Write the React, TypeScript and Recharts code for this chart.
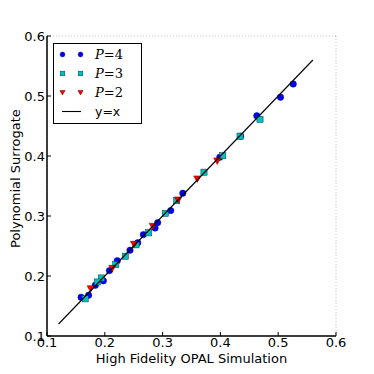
import React from 'react';
import { ScatterChart, Scatter, XAxis, YAxis, CartesianGrid } from 'recharts';

const xTicks = [0.1, 0.2, 0.3, 0.4, 0.5, 0.6];
const yTicks = [0.1, 0.2, 0.3, 0.4, 0.5, 0.6];

const p4X = [0.526, 0.504, 0.463, 0.435, 0.399, 0.335, 0.314, 0.2915, 0.287, 0.2667, 0.257, 0.2436, 0.2216, 0.208, 0.1975, 0.1836, 0.172, 0.159];
const p4Y = [0.52, 0.498, 0.467, 0.433, 0.398, 0.338, 0.309, 0.289, 0.28, 0.269, 0.2555, 0.243, 0.2255, 0.209, 0.192, 0.1845, 0.168, 0.1645];

const p3X = [0.4685, 0.434, 0.404, 0.3716, 0.3244, 0.3047, 0.276, 0.254, 0.2355, 0.219, 0.194, 0.187, 0.166];
const p3Y = [0.461, 0.433, 0.4005, 0.373, 0.3255, 0.3045, 0.272, 0.252, 0.233, 0.219, 0.1967, 0.19, 0.162];

const p2X = [0.3946, 0.36, 0.327, 0.283, 0.2505, 0.213, 0.1756];
const p2Y = [0.392, 0.362, 0.327, 0.283, 0.253, 0.213, 0.179];

const lineX = [0.12, 0.56];
const lineY = [0.12, 0.56];

const legendLabels = ['=4', '=3', '=2', 'y=x'];

const zip = (xs: number[], ys: number[]) => xs.map((x, i) => ({ x, y: ys[i] }));

const p4 = zip(p4X, p4Y);
const p3 = zip(p3X, p3Y);
const p2 = zip(p2X, p2Y);
const line = zip(lineX, lineY);

const BLUE = '#0000ff';
const CYAN = '#00bfbf';
const RED = '#ff0000';

const circleAt = (cx: number, cy: number, r: number) => (
  <circle cx={cx} cy={cy} r={r} fill={BLUE} stroke="#000080" strokeWidth={0.5} />
);
const squareAt = (cx: number, cy: number, h: number) => (
  <rect x={cx - h} y={cy - h} width={2 * h} height={2 * h} fill={CYAN} stroke="#004040" strokeWidth={0.5} />
);
const triAt = (cx: number, cy: number, h: number) => (
  <polygon
    points={`${cx - h},${cy - h * 0.8} ${cx + h},${cy - h * 0.8} ${cx},${cy + h}`}
    fill={RED}
    stroke="#600000"
    strokeWidth={0.5}
  />
);

const Circle = (props: any) => circleAt(props.cx, props.cy, 3.2);
const Square = (props: any) => squareAt(props.cx, props.cy, 3.1);
const TriDown = (props: any) => triAt(props.cx, props.cy, 3.6);
const NoShape = () => <g />;

const font = '"DejaVu Sans", sans-serif';

const LegendBox = () => {
  const kinds = ['c', 's', 't', 'l'];
  const mark = (kind: string, cx: number, cy: number) => {
    if (kind === 'c') return circleAt(cx, cy, 2.4);
    if (kind === 's') return squareAt(cx, cy, 2.3);
    return triAt(cx, cy, 2.6);
  };
  return (
    <div
      style={{
        position: 'absolute',
        left: 53,
        top: 43,
        width: 89,
        height: 81,
        border: '1px solid #000',
        background: '#fff',
        boxSizing: 'border-box',
      }}
    >
      <svg width={87} height={79} style={{ display: 'block' }}>
        {kinds.map((kind, i) => {
          const cy = 10.5 + i * 19;
          return (
            <g key={i}>
              {kind === 'l' ? (
                <line x1={8} x2={27} y1={cy} y2={cy} stroke="#000" strokeWidth={1.1} />
              ) : (
                <g>
                  {mark(kind, 8.5, cy)}
                  {mark(kind, 26.5, cy)}
                </g>
              )}
              {kind === 'l' ? (
                <text x={41} y={cy + 4.5} fontFamily={font} fontSize={12.5} fill="#000">
                  {legendLabels[i]}
                </text>
              ) : (
                <text x={41} y={cy + 4.5} fontFamily={'"DejaVu Serif", serif'} fontSize={13} fill="#000">
                  <tspan fontStyle="italic">P</tspan>
                  <tspan>{legendLabels[i]}</tspan>
                </text>
              )}
            </g>
          );
        })}
      </svg>
    </div>
  );
};

export default function App() {
  const tickStyle = { fontFamily: font, fontSize: 13, fill: '#000' };
  return (
    <div style={{ position: 'absolute', left: 0, top: 0, width: 374, height: 374, background: '#fff' }}>
      <ScatterChart width={374} height={374} margin={{ top: 36, right: 38, bottom: 8, left: 7 }}>
        <CartesianGrid stroke="#b0b0b0" strokeDasharray="1 2" strokeWidth={0.8} />
        <XAxis
          xAxisId="b"
          dataKey="x"
          type="number"
          domain={[0.1, 0.6]}
          ticks={xTicks}
          tickFormatter={(v: number) => v.toFixed(1)}
          height={30}
          tickSize={-4}
          tickMargin={6}
          tick={tickStyle}
          axisLine={{ stroke: '#000', strokeWidth: 1.5 }}
          tickLine={{ stroke: '#000' }}
          allowDataOverflow
          label={{ value: 'High Fidelity OPAL Simulation', position: 'insideBottom', offset: 3, style: { fontFamily: font, fontSize: 13, fill: '#000' } }}
        />
        <XAxis
          xAxisId="t"
          dataKey="x"
          type="number"
          orientation="top"
          domain={[0.1, 0.6]}
          ticks={xTicks}
          tickFormatter={() => ''}
          height={0}
          tickSize={-4}
          axisLine={{ stroke: '#000', strokeWidth: 1.5 }}
          tickLine={{ stroke: '#000' }}
          allowDataOverflow
        />
        <YAxis
          yAxisId="l"
          dataKey="y"
          type="number"
          domain={[0.1, 0.6]}
          ticks={yTicks}
          tickFormatter={(v: number) => v.toFixed(1)}
          width={40}
          tickSize={-4}
          tickMargin={6}
          tick={tickStyle}
          axisLine={{ stroke: '#000', strokeWidth: 1.5 }}
          tickLine={{ stroke: '#000' }}
          allowDataOverflow
          label={{ value: 'Polynomial Surrogate', angle: -90, position: 'insideLeft', offset: 8, dy: 62, style: { fontFamily: font, fontSize: 13, fill: '#000' } }}
        />
        <YAxis
          yAxisId="r"
          dataKey="y"
          type="number"
          orientation="right"
          domain={[0.1, 0.6]}
          ticks={yTicks}
          tickFormatter={() => ''}
          width={0}
          tickSize={-4}
          axisLine={{ stroke: '#000', strokeWidth: 1.5 }}
          tickLine={{ stroke: '#000' }}
          allowDataOverflow
        />
        <Scatter name="P=4" data={p4} xAxisId="b" yAxisId="l" shape={Circle} isAnimationActive={false} />
        <Scatter name="P=3" data={p3} xAxisId="b" yAxisId="l" shape={Square} isAnimationActive={false} />
        <Scatter name="P=2" data={p2} xAxisId="b" yAxisId="l" shape={TriDown} isAnimationActive={false} />
        <Scatter
          name="y=x"
          data={line}
          xAxisId="b"
          yAxisId="l"
          line={{ stroke: '#000', strokeWidth: 1.1 }}
          shape={NoShape}
          isAnimationActive={false}
        />
      </ScatterChart>
      <LegendBox />
    </div>
  );
}
